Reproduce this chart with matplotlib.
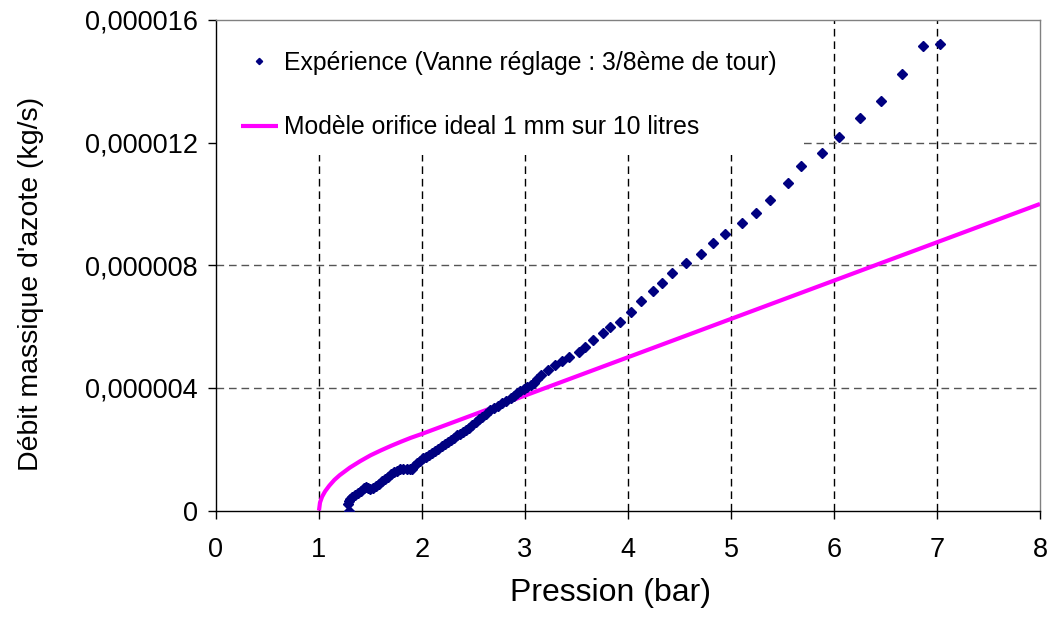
import matplotlib
matplotlib.use("Agg")
import matplotlib.pyplot as plt
from matplotlib.patches import Rectangle
from matplotlib.ticker import FuncFormatter, MultipleLocator

plt.rcParams["font.family"] = ["Liberation Sans", "DejaVu Sans"]

exp_p = [1.29, 1.28, 1.29, 1.30, 1.32, 1.35, 1.38, 1.41, 1.44, 1.46,
         1.48, 1.50, 1.52, 1.55, 1.58, 1.61, 1.64, 1.67, 1.70, 1.73,
         1.76, 1.79, 1.82, 1.85, 1.88, 1.90, 1.92, 1.95, 1.98, 2.01,
         2.04, 2.07, 2.10, 2.13, 2.16, 2.19, 2.22, 2.25, 2.28, 2.31,
         2.34, 2.37, 2.40, 2.43, 2.46, 2.49, 2.52, 2.55, 2.58, 2.62,
         2.66, 2.70, 2.74, 2.78, 2.82, 2.86, 2.89, 2.92, 2.95, 2.99,
         3.02, 3.06, 3.09, 3.12, 3.16, 3.22, 3.29, 3.36, 3.43, 3.52,
         3.58, 3.66, 3.76, 3.83, 3.92, 4.03, 4.13, 4.24, 4.33, 4.43,
         4.56, 4.71, 4.83, 4.94, 5.11, 5.24, 5.38, 5.55, 5.68, 5.88,
         6.05, 6.25, 6.46, 6.66, 6.86, 7.03]
exp_q = [0.00, 0.22, 0.30, 0.38, 0.45, 0.52, 0.58, 0.65, 0.72, 0.76,
         0.74, 0.70, 0.72, 0.80, 0.88, 0.95, 1.02, 1.10, 1.18, 1.25,
         1.30, 1.34, 1.36, 1.37, 1.34, 1.36, 1.45, 1.55, 1.62, 1.70,
         1.76, 1.82, 1.88, 1.94, 2.02, 2.10, 2.16, 2.24, 2.30, 2.38,
         2.45, 2.50, 2.56, 2.64, 2.70, 2.78, 2.88, 2.98, 3.06, 3.16,
         3.27, 3.36, 3.42, 3.50, 3.57, 3.66, 3.74, 3.82, 3.90, 3.97,
         4.03, 4.10, 4.16, 4.30, 4.42, 4.58, 4.75, 4.89, 5.02, 5.16,
         5.35, 5.56, 5.78, 6.00, 6.16, 6.48, 6.83, 7.16, 7.41, 7.74,
         8.06, 8.36, 8.71, 9.01, 9.39, 9.71, 10.13, 10.69, 11.25, 11.65,
         12.17, 12.79, 13.37, 14.24, 15.15, 15.21]

# Ideal orifice model curve (1e-6 kg/s)
model_p = [1.00, 1.01, 1.03, 1.06, 1.10, 1.15, 1.20, 1.30, 1.40, 1.50,
           1.60, 1.70, 1.80, 1.89, 2.00, 3.00, 4.00, 5.00, 6.00, 7.00, 8.00]
model_q = [0.00, 0.26, 0.45, 0.63, 0.81, 1.00, 1.15, 1.40, 1.61, 1.80,
           1.96, 2.11, 2.25, 2.37, 2.50, 3.75, 5.00, 6.25, 7.50, 8.75, 10.00]

label_exp = "Expérience (Vanne réglage : 3/8ème de tour)"
label_model = "Modèle orifice ideal 1 mm sur 10 litres"

fig = plt.figure(figsize=(10.52, 6.21), dpi=100)
ax = fig.add_axes([0.2053, 0.1779, 0.7833, 0.7899])

ax.plot(model_p, [q * 1e-6 for q in model_q], color="#FF00FF", lw=3,
        label=label_model, zorder=3, solid_capstyle="butt")
ax.plot(exp_p, [q * 1e-6 for q in exp_q], linestyle="none", marker="D",
        ms=4.9, color="#000080", mec="#000080", label=label_exp, zorder=4)

ax.set_xlim(0, 8)
ax.set_ylim(0, 16e-6)
ax.xaxis.set_major_locator(MultipleLocator(1))
ax.yaxis.set_major_locator(MultipleLocator(4e-6))


def fmt(v, pos):
    if abs(v) < 1e-12:
        return "0"
    return ("%.6f" % v).replace(".", ",")


ax.yaxis.set_major_formatter(FuncFormatter(fmt))

for x in range(1, 8):
    ax.axvline(x, color="black", lw=1, dashes=(5.5, 3.5), zorder=1)
for y in [4e-6, 8e-6, 12e-6]:
    ax.axhline(y, color="#555555", lw=1, dashes=(5.5, 3.5), zorder=1)

# white area behind the legend hides the grid, like in the original
ax.add_patch(Rectangle((0.0015, 0.725), 0.708, 0.273, transform=ax.transAxes,
                       facecolor="white", edgecolor="none", zorder=1.5))

for s in ["left", "bottom"]:
    ax.spines[s].set_color("black")
    ax.spines[s].set_linewidth(1)
for s in ["top", "right"]:
    ax.spines[s].set_color("#808080")
    ax.spines[s].set_linewidth(1)

ax.tick_params(axis="both", direction="out", length=6, width=1,
               labelsize=19.5)
ax.tick_params(axis="x", pad=13)
ax.tick_params(axis="y", pad=7)
ax.set_xlabel("Pression (bar)", fontsize=23)
ax.set_ylabel("Débit massique d'azote (kg/s)", fontsize=20.5)
ax.xaxis.set_label_coords(0.479, -0.138)
ax.yaxis.set_label_coords(-0.209, 0.462)

handles, labels = ax.get_legend_handles_labels()
leg = ax.legend(handles[::-1], labels[::-1], loc="upper left",
                bbox_to_anchor=(-0.006, 0.997), borderaxespad=0,
                fontsize=17.8, frameon=False, handlelength=1.5,
                handletextpad=0.25, labelspacing=1.62, borderpad=1.2,
                markerscale=0.65)
leg.set_zorder(5)

fig.savefig("out.png", dpi=100)
